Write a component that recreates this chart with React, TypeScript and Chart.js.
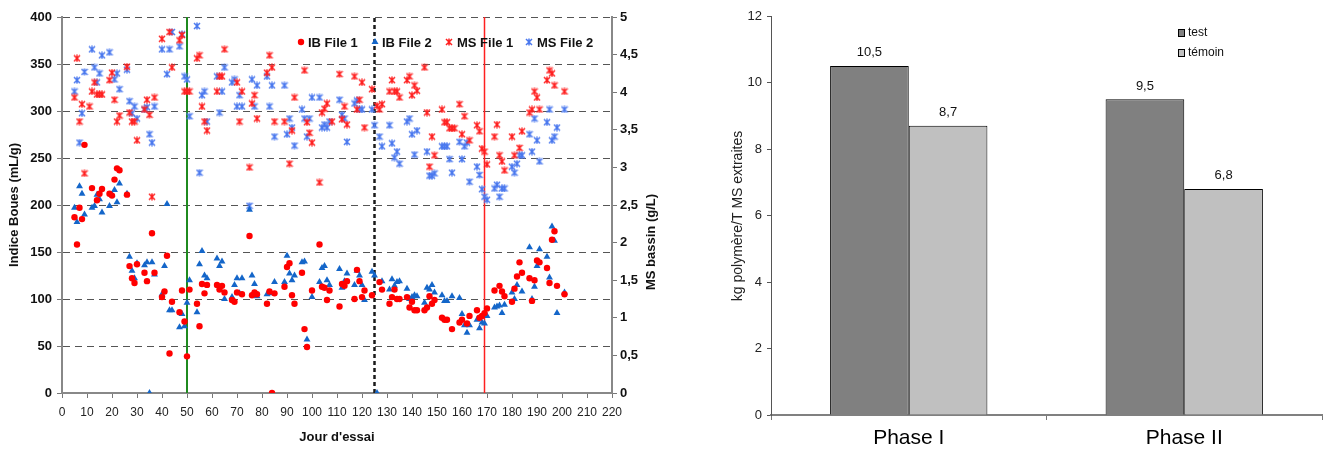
import React, { useEffect, useRef } from 'react';
import { Chart, registerables } from 'chart.js';

Chart.register(...registerables);

const FONT = '"Liberation Sans", Arial, Helvetica, sans-serif';

// ---- Left chart data: [day, value] ----
const IB_FILE_1: [number, number][] = [
  [5,187],[6,158],[7,197],[8,185],[9,264],[12,218],[14,205],[15,212],[16,217],[19,212],[20,210],[21,227],[22,239],[23,237],[26,211],
  [27,135],[28,122],[29,117],[30,137],[33,128],[34,119],[36,170],[37,128],[40,102],[41,108],[42,146],[43,42],[44,97],[47,86],[48,109],
  [49,76],[50,39],[51,110],[54,95],[55,71],[56,116],[57,106],[58,115],[62,115],[63,110],[64,114],[65,107],[68,99],[69,97],[70,107],
  [72,105],[75,167],[76,104],[77,107],[78,105],[82,95],[83,108],[84,0],[85,106],[89,113],[90,134],[91,138],[92,104],[93,95],[96,128],
  [97,68],[98,49],[100,109],[103,158],[104,113],[105,112],[106,99],[107,109],[111,92],[112,116],[113,114],[114,119],[117,100],[118,131],
  [119,119],[120,102],[121,109],[124,104],[127,118],[128,110],[131,95],[132,102],[133,110],[134,100],[135,100],[138,102],[139,91],[140,97],
  [141,88],[142,88],[145,88],[146,91],[147,103],[148,95],[149,99],[152,80],[153,78],[154,78],[156,68],[159,75],[160,78],[162,74],[163,82],
  [166,88],[167,80],[168,82],[169,85],[170,90],[173,109],[175,114],[176,108],[177,103],[180,97],[181,111],[182,124],[183,139],[184,128],
  [187,122],[188,98],[189,120],[190,141],[191,139],[194,133],[195,117],[196,163],[197,172],[198,114],[201,105]
];

const IB_FILE_2: [number, number][] = [
  [5,197],[6,182],[7,220],[8,212],[9,190],[12,197],[13,199],[14,211],[15,206],[16,192],[19,199],[20,211],[21,216],[22,203],[23,223],[26,212],
  [27,145],[28,130],[29,122],[30,138],[33,136],[34,139],[35,0],[36,139],[37,126],[40,105],[41,135],[42,201],[43,88],[44,88],[47,70],[48,84],
  [49,71],[50,96],[51,120],[54,86],[55,137],[56,151],[57,125],[58,122],[62,143],[63,135],[64,140],[65,100],[68,102],[69,115],[70,122],[71,106],
  [72,122],[75,195],[76,125],[77,116],[78,103],[82,105],[83,106],[85,118],[89,118],[90,146],[91,127],[92,120],[93,125],[96,139],[97,140],[98,57],
  [100,102],[103,118],[104,133],[105,135],[106,120],[107,115],[111,132],[112,112],[113,119],[114,127],[117,115],[118,130],[119,125],[120,115],
  [121,99],[124,129],[125,125],[126,0],[128,119],[131,110],[132,121],[133,114],[134,118],[135,119],[138,111],[139,100],[140,102],[141,104],
  [142,103],[145,96],[146,112],[147,110],[148,115],[149,107],[152,104],[153,98],[154,98],[156,103],[159,101],[160,84],[161,72],[162,64],[163,72],
  [166,78],[167,69],[168,75],[169,74],[170,82],[173,91],[174,92],[175,93],[176,85],[177,94],[180,107],[181,100],[182,115],[184,108],[187,155],
  [188,100],[189,113],[190,135],[191,153],[194,145],[195,123],[196,177],[197,162],[198,85],[201,107]
];

const MS_FILE_1: [number, number][] = [
  [5,3.93],[6,4.45],[7,3.61],[8,3.84],[9,2.92],[11,3.81],[12,4.01],[13,4.13],[14,3.97],[15,3.97],[16,3.97],[19,4.16],[20,4.26],[21,3.90],
  [22,3.61],[23,3.69],[26,4.34],[27,3.73],[28,3.61],[29,3.61],[30,3.36],[33,3.77],[34,3.90],[35,3.70],[36,2.61],[37,3.93],[40,4.71],[43,4.80],
  [44,4.33],[47,4.69],[48,4.76],[49,4.01],[50,4.01],[51,4.01],[54,4.45],[55,4.49],[56,3.81],[57,3.61],[58,3.49],[62,4.01],[63,4.21],[64,4.21],
  [65,4.57],[70,4.13],[71,3.61],[72,4.01],[75,3.00],[76,3.85],[77,3.96],[78,3.65],[82,4.26],[83,4.49],[84,4.33],[85,3.61],[89,3.61],[91,3.05],
  [92,3.49],[93,3.93],[97,4.29],[98,3.60],[99,3.46],[100,3.33],[103,2.80],[104,3.73],[105,3.78],[106,3.85],[108,3.61],[111,4.24],[112,3.64],
  [113,3.81],[114,3.57],[117,4.21],[118,3.77],[119,3.90],[120,4.13],[121,3.53],[124,4.04],[126,3.82],[127,3.77],[128,3.84],[131,4.01],[132,4.16],
  [133,4.01],[134,4.01],[135,3.93],[138,4.16],[139,4.21],[140,3.96],[141,4.09],[142,4.02],[145,4.33],[146,3.73],[147,3.01],[148,3.41],[149,3.16],
  [152,3.77],[153,3.60],[154,3.60],[155,3.52],[156,3.52],[157,3.52],[159,3.84],[160,3.44],[161,3.68],[163,3.36],[166,3.56],[167,3.48],[168,3.25],
  [169,3.21],[170,3.04],[173,3.41],[174,3.57],[175,3.16],[176,3.08],[177,2.96],[180,3.41],[181,3.16],[183,3.26],[184,3.48],[187,3.73],[188,3.77],
  [189,4.01],[190,3.93],[191,3.77],[194,4.16],[195,4.29],[196,4.25],[197,4.09],[201,4.01]
];

const MS_FILE_2: [number, number][] = [
  [5,4.01],[6,4.16],[7,3.33],[8,3.72],[9,4.27],[12,4.57],[13,4.33],[14,4.13],[15,4.25],[16,4.49],[19,4.53],[21,4.17],[22,4.25],[23,4.04],
  [26,4.30],[27,3.88],[28,3.72],[29,3.81],[30,3.65],[33,3.77],[34,3.80],[35,3.44],[36,3.33],[37,3.81],[40,4.57],[42,4.24],[43,4.57],[44,4.80],
  [47,4.61],[48,4.77],[49,4.21],[50,4.17],[51,3.68],[54,4.88],[55,2.93],[56,3.96],[57,4.01],[58,3.61],[62,4.21],[63,3.73],[64,4.01],[65,4.33],
  [68,4.13],[69,4.17],[70,3.81],[71,3.96],[72,3.81],[75,2.49],[76,4.17],[77,3.81],[78,4.09],[82,4.21],[83,3.81],[84,4.09],[85,3.41],[89,4.09],
  [90,3.44],[91,3.65],[92,3.53],[93,3.29],[96,3.77],[97,3.65],[98,3.41],[99,3.65],[100,3.93],[103,3.93],[104,3.53],[105,3.57],[106,3.53],
  [107,3.61],[111,3.90],[112,3.70],[113,3.65],[114,3.34],[117,3.85],[118,3.89],[119,3.77],[120,3.77],[124,3.77],[125,3.56],[127,3.41],[128,3.28],
  [131,3.56],[132,3.32],[133,3.13],[134,3.21],[135,3.05],[138,3.61],[139,3.65],[140,3.44],[141,3.17],[142,3.49],[146,3.21],[147,2.89],[148,2.89],
  [149,2.92],[152,3.28],[153,3.28],[154,3.28],[155,3.11],[156,2.93],[159,3.34],[160,3.11],[161,3.28],[162,3.33],[163,2.81],[166,3.01],[167,2.90],
  [168,2.71],[169,2.61],[170,2.57],[173,2.72],[174,2.77],[175,2.61],[176,2.72],[177,2.72],[180,3.01],[181,2.93],[182,3.05],[183,3.16],[184,3.16],
  [187,3.44],[188,3.21],[189,3.65],[190,3.36],[191,3.08],[194,3.60],[195,3.77],[196,3.36],[197,3.41],[198,3.53],[201,3.77]
];

// vertical markers (days)
const MARKER_GREEN = 50;
const MARKER_DOTTED = 125;
const MARKER_RED = 169;

// ---- Right chart data ----
const PHASES = ['Phase I', 'Phase II'];
const TEST = [10.5, 9.5];
const TEMOIN = [8.7, 6.8];

const RED = '#ff0000';
const RED_X = '#ff2020';
const BLUE_TRI = '#1466c9';
const BLUE_X = '#4a78ee';

function makeStar(color: string) {
  const c = document.createElement('canvas');
  c.width = 8;
  c.height = 8;
  const g = c.getContext('2d')!;
  g.strokeStyle = color;
  g.lineWidth = 1.5;
  g.beginPath();
  g.moveTo(1, 1); g.lineTo(7, 7);
  g.moveTo(7, 1); g.lineTo(1, 7);
  g.moveTo(4, 0.5); g.lineTo(4, 7.5);
  g.stroke();
  return c;
}

const toPts = (arr: [number, number][]) => arr.map(([x, y]) => ({ x, y }));
const comma = (v: any) => String(v).replace('.', ',');

function ScatterChart() {
  const ref = useRef<HTMLCanvasElement>(null);
  useEffect(() => {
    const starRed = makeStar(RED_X);
    const starBlue = makeStar(BLUE_X);
    const vline = (x: number, color: string, width: number, dash: number[]) => ({
      label: 'marker',
      data: [{ x, y: 0 }, { x, y: 400 }],
      yAxisID: 'y',
      showLine: true,
      borderColor: color,
      borderWidth: width,
      borderDash: dash,
      pointRadius: 0,
      pointHoverRadius: 0,
      order: 10,
    });
    const decor = {
      id: 'decor',
      afterDraw(chart: any) {
        const ctx = chart.ctx;
        ctx.save();
        ctx.fillStyle = '#111';
        ctx.font = `bold 13px ${FONT}`;
        ctx.textBaseline = 'middle';
        ctx.textAlign = 'center';
        ctx.fillText("Jour d'essai", 337, 437);
        ctx.save();
        ctx.translate(14, 205);
        ctx.rotate(-Math.PI / 2);
        ctx.fillText('Indice Boues (mL/g)', 0, 0);
        ctx.restore();
        ctx.save();
        ctx.translate(651, 242);
        ctx.rotate(-Math.PI / 2);
        ctx.fillText('MS bassin (g/L)', 0, 0);
        ctx.restore();
        // legend
        const ly = 42;
        ctx.textAlign = 'left';
        ctx.fillStyle = RED;
        ctx.beginPath(); ctx.arc(301, ly, 3.2, 0, Math.PI * 2); ctx.fill();
        ctx.fillStyle = BLUE_TRI;
        ctx.beginPath();
        ctx.moveTo(375, ly - 4); ctx.lineTo(378.5, ly + 2); ctx.lineTo(371.5, ly + 2); ctx.closePath(); ctx.fill();
        ctx.drawImage(starRed, 449 - 4, ly - 4);
        ctx.drawImage(starBlue, 529 - 4, ly - 4);
        ctx.fillStyle = '#111';
        ctx.fillText('IB File 1', 308, ly + 1);
        ctx.fillText('IB File 2', 382, ly + 1);
        ctx.fillText('MS File 1', 457, ly + 1);
        ctx.fillText('MS File 2', 537, ly + 1);
        ctx.restore();
      },
    };
    const chart = new Chart(ref.current!, {
      type: 'scatter',
      data: {
        datasets: [
          { label: 'MS File 2', data: toPts(MS_FILE_2), yAxisID: 'y1', pointStyle: starBlue, pointRadius: 3, order: 4 } as any,
          { label: 'MS File 1', data: toPts(MS_FILE_1), yAxisID: 'y1', pointStyle: starRed, pointRadius: 3, order: 3 } as any,
          { label: 'IB File 2', data: toPts(IB_FILE_2), yAxisID: 'y', pointStyle: 'triangle', pointRadius: 4, backgroundColor: BLUE_TRI, borderColor: BLUE_TRI, borderWidth: 0, order: 2 } as any,
          { label: 'IB File 1', data: toPts(IB_FILE_1), yAxisID: 'y', pointStyle: 'circle', pointRadius: 3.2, backgroundColor: RED, borderColor: RED, borderWidth: 0, order: 1 } as any,
          vline(MARKER_GREEN, '#1f8a1f', 2, []) as any,
          vline(MARKER_DOTTED, '#1a1a1a', 2.5, [4, 3]) as any,
          vline(MARKER_RED, '#ff2020', 1.5, []) as any,
        ],
      },
      options: {
        animation: false,
        responsive: false,
        maintainAspectRatio: false,
        layout: { padding: { top: 17, right: 0, bottom: 0, left: 0 } },
        plugins: { legend: { display: false }, tooltip: { enabled: false } },
        scales: {
          x: {
            type: 'linear', min: 0, max: 220,
            ticks: { stepSize: 10, color: '#222', font: { family: FONT, size: 12 }, padding: 7, maxRotation: 0, autoSkip: false },
            grid: { drawOnChartArea: false, drawTicks: true, tickLength: 5, tickColor: '#777' },
            border: { color: '#888', width: 2 },
            afterFit: (s: any) => { s.height = 57; },
          },
          y: {
            position: 'left', min: 0, max: 400,
            ticks: { stepSize: 50, color: '#111', font: { family: FONT, size: 13, weight: 'bold' }, padding: 5 },
            grid: { color: (c: any) => (c.tick && c.tick.value === 0 ? 'rgba(0,0,0,0)' : '#555'), lineWidth: 1, tickLength: 5, tickColor: '#777' },
            border: { color: '#888', width: 2, dash: [7, 5] },
            afterFit: (s: any) => { s.width = 62; },
          },
          y1: {
            position: 'right', min: 0, max: 5,
            ticks: { stepSize: 0.5, callback: comma, color: '#111', font: { family: FONT, size: 13, weight: 'bold' }, padding: 3 },
            grid: { drawOnChartArea: false, tickLength: 5, tickColor: '#777' },
            border: { color: '#888', width: 2 },
            afterFit: (s: any) => { s.width = 48; },
          },
        },
      } as any,
      plugins: [decor],
    });
    return () => chart.destroy();
  }, []);
  return <canvas ref={ref} width={660} height={450} style={{ position: 'absolute', left: 0, top: 0, width: 660, height: 450 }} />;
}

function BarChart() {
  const ref = useRef<HTMLCanvasElement>(null);
  useEffect(() => {
    const decor = {
      id: 'bardecor',
      afterDatasetsDraw(chart: any) {
        const ctx = chart.ctx;
        ctx.save();
        ctx.fillStyle = '#111';
        ctx.font = `13px ${FONT}`;
        ctx.textAlign = 'center';
        ctx.textBaseline = 'middle';
        chart.data.datasets.forEach((ds: any, i: number) => {
          const meta = chart.getDatasetMeta(i);
          meta.data.forEach((bar: any, j: number) => {
            ctx.fillText(comma(ds.data[j]), bar.x, bar.y - 13);
          });
        });
        // y axis title
        ctx.save();
        ctx.translate(78, 216);
        ctx.rotate(-Math.PI / 2);
        ctx.font = `14px ${FONT}`;
        ctx.fillStyle = '#222';
        ctx.fillText('kg polymère/T MS extraites', 0, 0);
        ctx.restore();
        // legend
        const items = [
          { label: chart.data.datasets[0].label, color: chart.data.datasets[0].backgroundColor, y: 33 },
          { label: chart.data.datasets[1].label, color: chart.data.datasets[1].backgroundColor, y: 53 },
        ];
        ctx.textAlign = 'left';
        items.forEach((it) => {
          ctx.fillStyle = it.color;
          ctx.fillRect(518, it.y - 4, 7, 8);
          ctx.strokeStyle = '#000';
          ctx.lineWidth = 1;
          ctx.strokeRect(518.5, it.y - 3.5, 6, 7);
          ctx.fillStyle = '#111';
          ctx.font = `12px ${FONT}`;
          ctx.fillText(it.label, 528, it.y);
        });
        ctx.restore();
      },
    };
    const chart = new Chart(ref.current!, {
      type: 'bar',
      data: {
        labels: PHASES,
        datasets: [
          { label: 'test', data: TEST, backgroundColor: '#808080', borderColor: '#000', borderWidth: 1, categoryPercentage: 0.571, barPercentage: 1 },
          { label: 'témoin', data: TEMOIN, backgroundColor: '#c0c0c0', borderColor: '#000', borderWidth: 1, categoryPercentage: 0.571, barPercentage: 1 },
        ],
      },
      options: {
        animation: false,
        responsive: false,
        maintainAspectRatio: false,
        layout: { padding: { top: 16, right: 2, bottom: 0, left: 0 } },
        plugins: { legend: { display: false }, tooltip: { enabled: false } },
        scales: {
          x: {
            ticks: { color: '#000', font: { family: FONT, size: 21 }, padding: 6 },
            grid: { offset: true, drawOnChartArea: false, tickLength: 5, tickColor: '#777' },
            border: { color: '#808080', width: 2 },
            afterFit: (s: any) => { s.height = 35; },
          },
          y: {
            min: 0, max: 12,
            ticks: { stepSize: 2, color: '#222', font: { family: FONT, size: 13 }, padding: 5 },
            grid: { drawOnChartArea: false, tickLength: 4, tickColor: '#555' },
            border: { color: '#555', width: 1 },
            afterFit: (s: any) => { s.width = 111; },
          },
        },
      } as any,
      plugins: [decor],
    });
    return () => chart.destroy();
  }, []);
  return <canvas ref={ref} width={664} height={450} style={{ position: 'absolute', left: 660, top: 0, width: 664, height: 450 }} />;
}

export default function App() {
  return (
    <div style={{ position: 'absolute', left: 0, top: 0, width: 1324, height: 450, background: '#fff' }}>
      <ScatterChart />
      <BarChart />
    </div>
  );
}
